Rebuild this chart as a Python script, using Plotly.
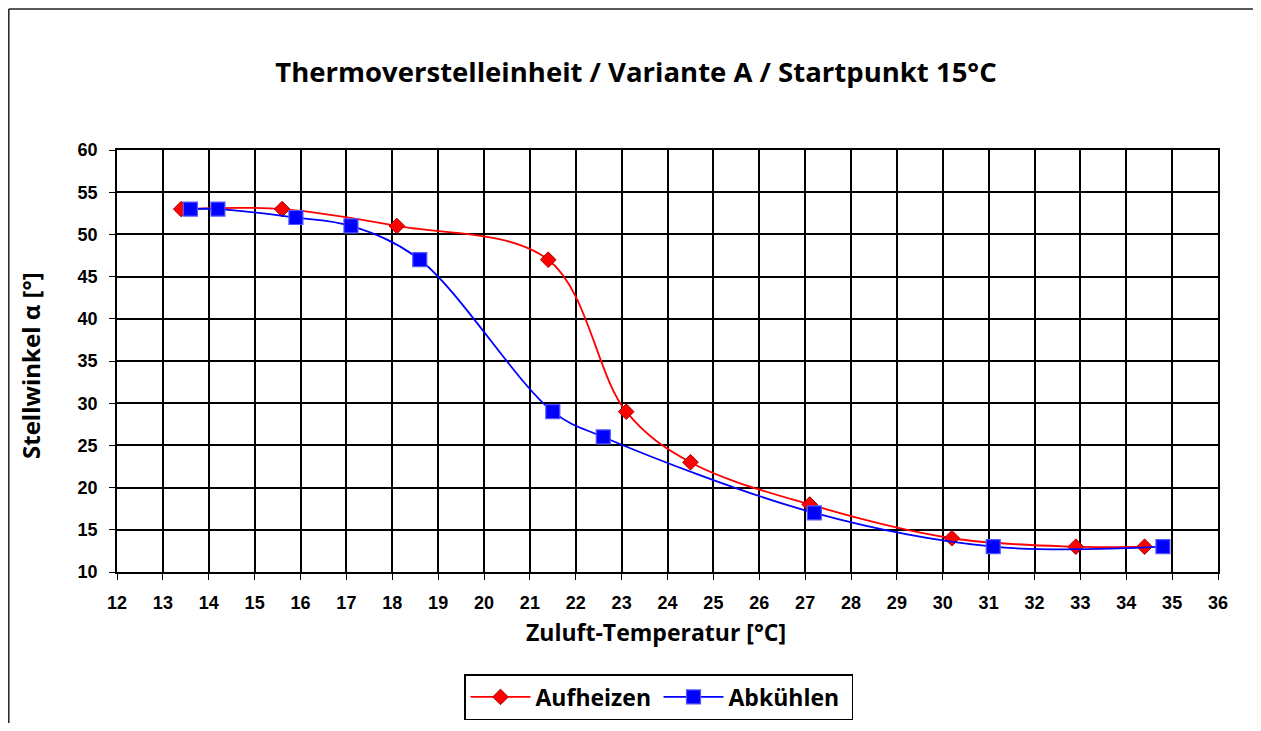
import plotly.graph_objects as go

# Data
heat_x = [13.4, 15.6, 18.1, 21.4, 23.1, 24.5, 27.1, 30.2, 32.9, 34.4]
heat_y = [53, 53, 51, 47, 29, 23, 18, 14, 13, 13]
cool_x = [13.6, 14.2, 15.9, 17.1, 18.6, 21.5, 22.6, 27.2, 31.1, 34.8]
cool_y = [53, 53, 52, 51, 47, 29, 26, 17, 13, 13]
x_ticks = list(range(12, 37))
y_ticks = list(range(10, 61, 5))

# page has an 8px body margin; work in figure coords and avoid overflow
OFF = 8
W, H = 1261 - 2 * OFF, 731 - 2 * OFF
L, R, T, B = 117 - OFF, 1218 - OFF, 150 - OFF, 572 - OFF
pw, ph = R - L, B - T

def px(xp):
    return (xp - OFF - L) / pw

def py(yp):
    return (B - (yp - OFF)) / ph

TITLE_FONT = "Open Sans"
TICK_FONT = "Liberation Sans"

fig = go.Figure()
fig.add_trace(go.Scatter(
    x=heat_x, y=heat_y, name="Aufheizen", mode="lines+markers",
    line=dict(color="#FF0000", width=1.8, shape="spline", smoothing=1.0),
    marker=dict(symbol="diamond", size=12, color="#FF0000",
                line=dict(color="#A00000", width=1)),
))
fig.add_trace(go.Scatter(
    x=cool_x, y=cool_y, name="Abkühlen", mode="lines+markers",
    line=dict(color="#0000FF", width=1.8, shape="spline", smoothing=1.0),
    marker=dict(symbol="square", size=14, color="#0000FF",
                line=dict(color="#5555FF", width=1.2)),
))

axis_common = dict(
    showgrid=True, gridcolor="black", gridwidth=1.7,
    showline=True, linecolor="black", linewidth=1.7, mirror=True,
    ticks="outside", ticklen=6, tickcolor="black", tickwidth=1.2,
    tickfont=dict(family=TICK_FONT, size=18, color="black", weight="bold"),
    zeroline=False,
)
fig.update_xaxes(range=[12, 36], tickvals=x_ticks, ticktext=[str(v) for v in x_ticks],
                 ticklabelstandoff=8, **axis_common)
fig.update_yaxes(range=[10, 60], tickvals=y_ticks, ticktext=[str(v) for v in y_ticks],
                 ticklabelstandoff=8, **axis_common)

frame_x0 = (0.8 - L) / pw
frame_x1 = (W + 60 - L) / pw
frame_y0 = (B - (H + 60)) / ph
frame_y1 = (B - 1) / ph

fig.update_layout(
    width=W, height=H,
    margin=dict(l=L, r=W - R, t=T, b=H - B, autoexpand=False),
    paper_bgcolor="white", plot_bgcolor="white",
    title=dict(text="<b>Thermoverstelleinheit / Variante A / Startpunkt 15°C</b>",
               font=dict(family=TITLE_FONT, size=27.5, color="black"),
               x=(636 - OFF) / W, xref="container", xanchor="center",
               y=1 - (72 - OFF) / H, yref="container", yanchor="middle"),
    showlegend=True,
    legend=dict(orientation="h", x=px(464), y=py(674), xanchor="left", yanchor="top",
                bordercolor="black", borderwidth=1.5, bgcolor="white",
                font=dict(family=TITLE_FONT, size=23, color="black", weight="bold"),
                itemwidth=60, entrywidth=118, entrywidthmode="pixels"),
    shapes=[
        dict(type="line", xref="paper", yref="paper",
             x0=frame_x0, x1=frame_x1, y0=frame_y1, y1=frame_y1,
             line=dict(color="#222222", width=1.5), layer="below"),
        dict(type="line", xref="paper", yref="paper",
             x0=frame_x0, x1=frame_x0, y0=frame_y0, y1=frame_y1,
             line=dict(color="#222222", width=1.5), layer="below"),
    ],
    annotations=[
        dict(text="<b>Zuluft-Temperatur [°C]</b>", xref="paper", yref="paper",
             x=px(656), y=py(632), xanchor="center", yanchor="middle", showarrow=False,
             font=dict(family=TITLE_FONT, size=23, color="black")),
        dict(text="<b>Stellwinkel α [°]</b>", xref="paper", yref="paper",
             x=px(30), y=py(366), xanchor="center", yanchor="middle", showarrow=False,
             textangle=-90, font=dict(family=TITLE_FONT, size=24, color="black")),
    ],
)

fig.write_html("out.html")
